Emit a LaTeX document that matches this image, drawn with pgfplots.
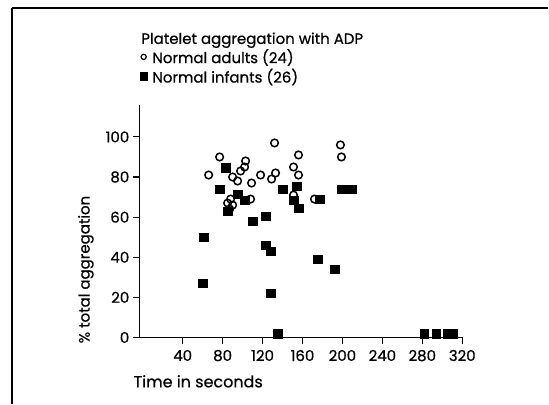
\documentclass[border=0pt]{standalone}
\usepackage{fontspec}
\setmainfont{Poppins}[FakeBold=0.6]
\usepackage{pgfplots}
\pgfplotsset{compat=1.18}
\begin{document}
\begin{tikzpicture}[x=1pt,y=1pt]
\path (0,0) rectangle (549,405);
\draw[line width=1.8pt] (12,397) -- (549,397);
\draw[line width=1.2pt] (12,397) -- (12,0);
\begin{axis}[
  at={(140pt,67pt)}, anchor=south west,
  scale only axis, width=323pt, height=233pt,
  xmin=-3, xmax=320, ymin=0, ymax=116,
  axis lines=left,
  axis line style={-, line width=1.3pt},
  xtick={40,80,...,320}, ytick={0,20,...,100},
  tick align=outside, major tick length=7pt,
  tick style={line width=1.1pt, black},
  /pgf/number format/assume math mode=true,
  ticklabel style={font=\fontsize{15}{17}\selectfont},
  xticklabel style={yshift=-2pt},
  xlabel={Time in seconds},
  xlabel style={at={(axis description cs:-0.03,-0.2146)}, anchor=base west, font=\fontsize{16}{18}\selectfont},
  ylabel={\% total aggregation},
  ylabel style={at={(axis description cs:-0.167,0.292)}, anchor=center, font=\fontsize{15}{17}\selectfont},
  title={Platelet aggregation with ADP},
  every axis title shift=0pt,
  title style={at={(axis description cs:-0.006,1.2618)}, anchor=base west, font=\fontsize{15}{17}\selectfont},
  legend style={at={(axis description cs:0,1.2403)}, anchor=north west, draw=none, fill=none,
    font=\fontsize{15}{17}\selectfont, row sep=4pt, inner sep=0pt,
    nodes={inner sep=0pt},
    /tikz/every odd column/.append style={column sep=5pt}},
  legend cell align=left,
]
\addplot[only marks, mark=o, mark size=3.8pt, mark options={line width=1.5pt}, black,
  legend image code/.code={\draw[black, line width=1.2pt] (3pt,0pt) circle (2.6pt);}] coordinates {
(66,81) (77,90) (103,88) (102,85) (98,83) (90,80) (95,78) (109,77)
(118,81) (133,82) (129,79) (132,97) (156,91) (151,85) (156,81) (151,71)
(172,69) (198,96) (199,90) (108,69) (85,67) (88,69) (90,66) (87,64)
};
\addlegendentry{Normal adults (24)}
\addplot[only marks, mark=square*, mark size=4.3pt, black,
  legend image code/.code={\fill[black] (-0.5pt,-4pt) rectangle (6.5pt,4pt);}] coordinates {
(83,84.5) (77,74) (95,71.5) (102,68.5) (85,63) (110,58) (123,60.5) (140,74)
(154,75.5) (151,68.5) (156,64.5) (177,69) (199,74) (209,74) (61,50) (60,27)
(123,46) (128,43) (128,22) (135,2) (175,39) (192,34) (282,2) (294,2) (305,2) (311,2)
};
\addlegendentry{Normal infants (26)}
\end{axis}
\end{tikzpicture}
\end{document}
